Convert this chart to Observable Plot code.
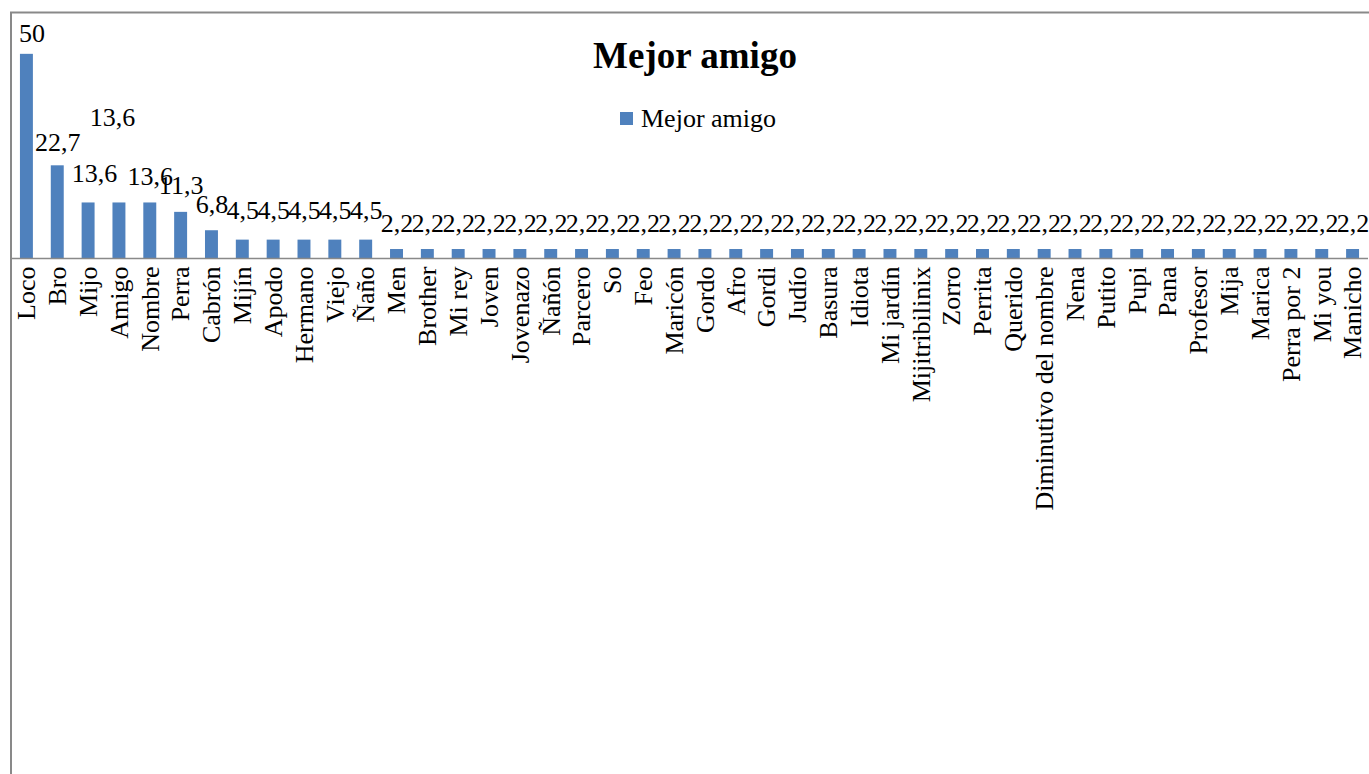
<!DOCTYPE html>
<html>
<head>
<meta charset="utf-8">
<script src="https://cdn.jsdelivr.net/npm/d3@7"></script>
<script src="https://cdn.jsdelivr.net/npm/@observablehq/plot@0.6"></script>
<style>
  html, body { margin: 0; padding: 0; background: #ffffff; }
  #chart { position: relative; width: 1369px; height: 774px; overflow: hidden; }
</style>
</head>
<body>
<div id="chart"></div>
<script>
const categories = [
  "Loco", "Bro", "Mijo", "Amigo", "Nombre", "Perra", "Cabrón", "Mijín", "Apodo", "Hermano",
  "Viejo", "Ñaño", "Men", "Brother", "Mi rey", "Joven", "Jovenazo", "Ñañón", "Parcero", "So",
  "Feo", "Maricón", "Gordo", "Afro", "Gordi", "Judío", "Basura", "Idiota", "Mi jardín", "Mijitribilinix",
  "Zorro", "Perrita", "Querido", "Diminutivo del nombre", "Nena", "Putito", "Pupi", "Pana", "Profesor", "Mija",
  "Marica", "Perra por 2", "Mi you", "Manicho"
];
const values = [
  50, 22.7, 13.6, 13.6, 13.6, 11.3, 6.8, 4.5, 4.5, 4.5,
  4.5, 4.5, 2.2, 2.2, 2.2, 2.2, 2.2, 2.2, 2.2, 2.2,
  2.2, 2.2, 2.2, 2.2, 2.2, 2.2, 2.2, 2.2, 2.2, 2.2,
  2.2, 2.2, 2.2, 2.2, 2.2, 2.2, 2.2, 2.2, 2.2, 2.2,
  2.2, 2.2, 2.2, 2.2
];
const seriesName = "Mejor amigo";
const chartTitle = "Mejor amigo";
const yDomain = [0, 60];

const data = categories.map((c, i) => ({category: c, value: values[i]}));
const fmt = v => String(v).replace(".", ",");

// label nudges (as in the original layout, where some labels were shifted)
const labelDy = {"Loco": -12, "Bro": -15, "Mijo": -21, "Amigo": -77};
const labelDx = {"Loco": 5, "Mijo": 6, "Amigo": -7};

const serif = "'Liberation Serif', 'Times New Roman', serif";
const barColor = "#4F81BD";
const gray = "#898989";

const plot = Plot.plot({
  width: 1369,
  height: 774,
  marginLeft: 11,
  marginRight: 1,
  marginTop: 13,
  marginBottom: 516,
  style: {fontFamily: serif, fontSize: "26px", color: "#000", background: "transparent", overflow: "visible"},
  x: {domain: categories, paddingInner: 0.58, paddingOuter: 0.29, label: null},
  y: {domain: yDomain, label: null, axis: null},
  marks: [
    Plot.barY(data, {x: "category", y: "value", fill: barColor}),
    Plot.ruleY([0], {stroke: gray, strokeWidth: 1.5}),
    Plot.axisX({tickRotate: -90, tickSize: 0, tickPadding: 8, fontSize: 26, fontFamily: serif, label: null}),
    ...data.map(d => Plot.text([d], {
      x: "category", y: "value", text: v => fmt(v.value),
      lineAnchor: "bottom", dy: (labelDy[d.category] ?? (d.value === 4.5 ? -21 : -18)),
      dx: labelDx[d.category] ?? 0,
      fontSize: 26, fontFamily: serif, fill: "#000"
    }))
  ]
});

const svg = d3.select(plot);
// chart border (outer frame)
svg.append("path")
  .attr("d", "M11,774 V12.5 H1369")
  .attr("fill", "none").attr("stroke", gray).attr("stroke-width", 2);
// title
svg.append("text")
  .attr("x", 695).attr("y", 68)
  .attr("text-anchor", "middle")
  .attr("font-family", serif).attr("font-weight", "bold").attr("font-size", 37)
  .attr("fill", "#000")
  .text(chartTitle);
// legend
const lg = svg.append("g");
lg.append("rect").attr("x", 620).attr("y", 112).attr("width", 13).attr("height", 13).attr("fill", barColor);
lg.append("text").attr("x", 641).attr("y", 127)
  .attr("text-anchor", "start")
  .attr("font-family", serif).attr("font-size", 26).attr("fill", "#000")
  .text(seriesName);

document.getElementById("chart").appendChild(plot);
</script>
</body>
</html>
